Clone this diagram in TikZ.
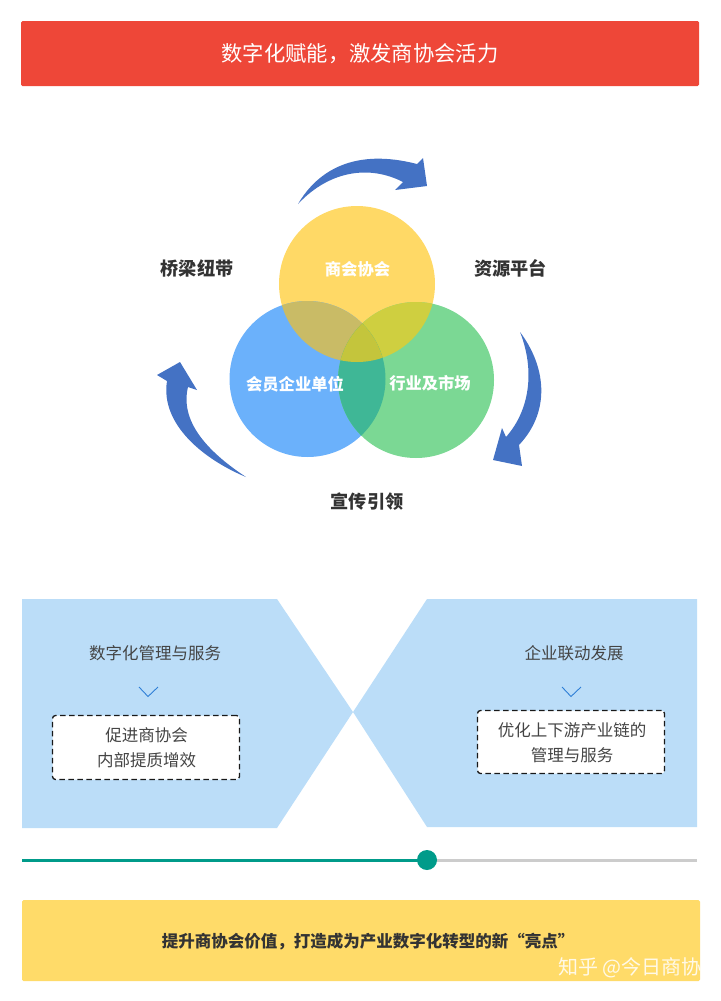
\documentclass[tikz,border=0pt]{standalone}
\usepackage{fontspec}
\setmainfont{Noto Sans CJK SC}
\definecolor{redbar}{HTML}{EE4738}
\definecolor{yellowbar}{HTML}{FFDB69}
\definecolor{cy}{HTML}{FFD966}
\definecolor{cb}{HTML}{6BB1FB}
\definecolor{cg}{HTML}{7BD894}
\definecolor{cyb}{HTML}{C9BB66}
\definecolor{cyg}{HTML}{CFCF40}
\definecolor{cbg}{HTML}{3FB796}
\definecolor{cybg}{HTML}{C4C53C}
\definecolor{arrowblue}{HTML}{4472C4}
\definecolor{panel}{HTML}{BBDDF8}
\definecolor{teal}{HTML}{009B8A}
\definecolor{track}{HTML}{CCCCCC}
\definecolor{inktext}{HTML}{333333}
\definecolor{softtext}{HTML}{444444}
\definecolor{chev}{HTML}{2F7FD6}
\tikzset{
  bub/.style={circle,minimum size=156pt,inner sep=0pt,fill=#1},
  bublabel/.style={text=white,font=\fontsize{16.3}{19}\selectfont\bfseries},
  sidelabel/.style={text=inktext,font=\fontsize{18.2}{22}\selectfont\bfseries},
  paneltitle/.style={text=softtext,font=\fontsize{16.5}{20}\selectfont},
  dashbox/.style={draw=black!90,fill=white,line width=1.3pt,rounded corners=3pt,dash pattern=on 5.5pt off 3.5pt},
  boxtext/.style={text=softtext,align=center,font=\fontsize{16.5}{25}\selectfont},
  swoosh/.style={fill=arrowblue},
  chevline/.style={draw=chev,line width=0.9pt},
}
\begin{document}
\begin{tikzpicture}[x=1pt,y=-1pt]
\useasboundingbox (0,0) rectangle (720,1001);
% title
\node[fill=redbar,rounded corners=1.5pt,minimum width=678pt,minimum height=65pt,inner sep=0pt,text=white,font=\fontsize{21.3}{25}\selectfont] (title) at (360,53.5) {数字化赋能，激发商协会活力};
% swooshes
\fill[swoosh] (298,204) .. controls (318,170) and (355,148) .. (417,164) -- (423,158) -- (427,186) -- (395,190) -- (403,182) .. controls (370,165) and (330,170) .. (298,204) -- cycle;
\fill[swoosh] (520,332) .. controls (545,365) and (552,410) .. (519,445) -- (522,466) -- (493,460) -- (502,428) -- (506,437) .. controls (530,410) and (535,370) .. (520,332) -- cycle;
\fill[swoosh] (246,477) .. controls (205,460) and (160,425) .. (167,381) -- (157,375) -- (180,362) -- (197,390) -- (188,387) .. controls (180,420) and (205,450) .. (246,477) -- cycle;
% circles
\node[bub=cy] (c1) at (357,284) {};
\node[bub=cb] (c2) at (307.5,379) {};
\node[bub=cg] (c3) at (416,380) {};
\begin{scope}
\clip (c1.center) circle (78);
\fill[cyb] (c2.center) circle (78);
\fill[cyg] (c3.center) circle (78);
\end{scope}
\begin{scope}
\clip (c2.center) circle (78);
\clip (c3.center) circle (78);
\fill[cbg] (300,300) rectangle (420,470);
\clip (c1.center) circle (78);
\fill[cybg] (300,200) rectangle (420,470);
\end{scope}
\node[bublabel] (t1) at (357.5,269) {商会协会};
\node[bublabel] (t2) at (295,384) {会员企业单位};
\node[bublabel] (t3) at (430,383) {行业及市场};
\node[sidelabel] (s1) at (197,268.5) {桥梁纽带};
\node[sidelabel] (s2) at (510.5,268.5) {资源平台};
\node[sidelabel] (s3) at (367,502) {宣传引领};
% panels
\fill[panel] (22,599) -- (277,599) -- (353,712) -- (277,828) -- (22,828) -- cycle;
\fill[panel] (697,599) -- (427,599) -- (353,712) -- (427,827) -- (697,827) -- cycle;
\node[paneltitle] (p1) at (155,653) {数字化管理与服务};
\node[paneltitle] (p2) at (574,653) {企业联动发展};
\draw[chevline] (139,687) -- (148,696.5) -- (158,687);
\draw[chevline] (562,687) -- (571,696.5) -- (581,687);
\node[dashbox,minimum width=187pt,minimum height=64pt,inner sep=0pt] (b1) at (146,747.5) {};
\node[boxtext] (bt1) at (146.5,747.5) {促进商协会\\内部提质增效};
\node[dashbox,minimum width=187pt,minimum height=63pt,inner sep=0pt] (b2) at (571,742) {};
\node[boxtext] (bt2) at (572,742.5) {优化上下游产业链的\\管理与服务};
% slider
\coordinate (sa) at (22,860);
\coordinate (sb) at (697,860);
\draw[track,line width=3pt] (427,860) -- (sb);
\draw[teal,line width=3pt] (sa) -- (427,860);
\node[circle,fill=teal,minimum size=20pt,inner sep=0pt] (knob) at (427,860) {};
% bottom bar
\node[fill=yellowbar,rounded corners=1.5pt,minimum width=678pt,minimum height=81pt,inner sep=0pt] (bar) at (361,940.5) {};
\node[text=inktext,font=\fontsize{16.5}{20}\selectfont\bfseries] (bartext) at (368,942) {提升商协会价值，打造成为产业数字化转型的新“亮点”};
\node[text=white,opacity=.85,font=\fontsize{20}{24}\selectfont] (wm) at (630,968) {知乎 @今日商协};
\end{tikzpicture}
\end{document}
